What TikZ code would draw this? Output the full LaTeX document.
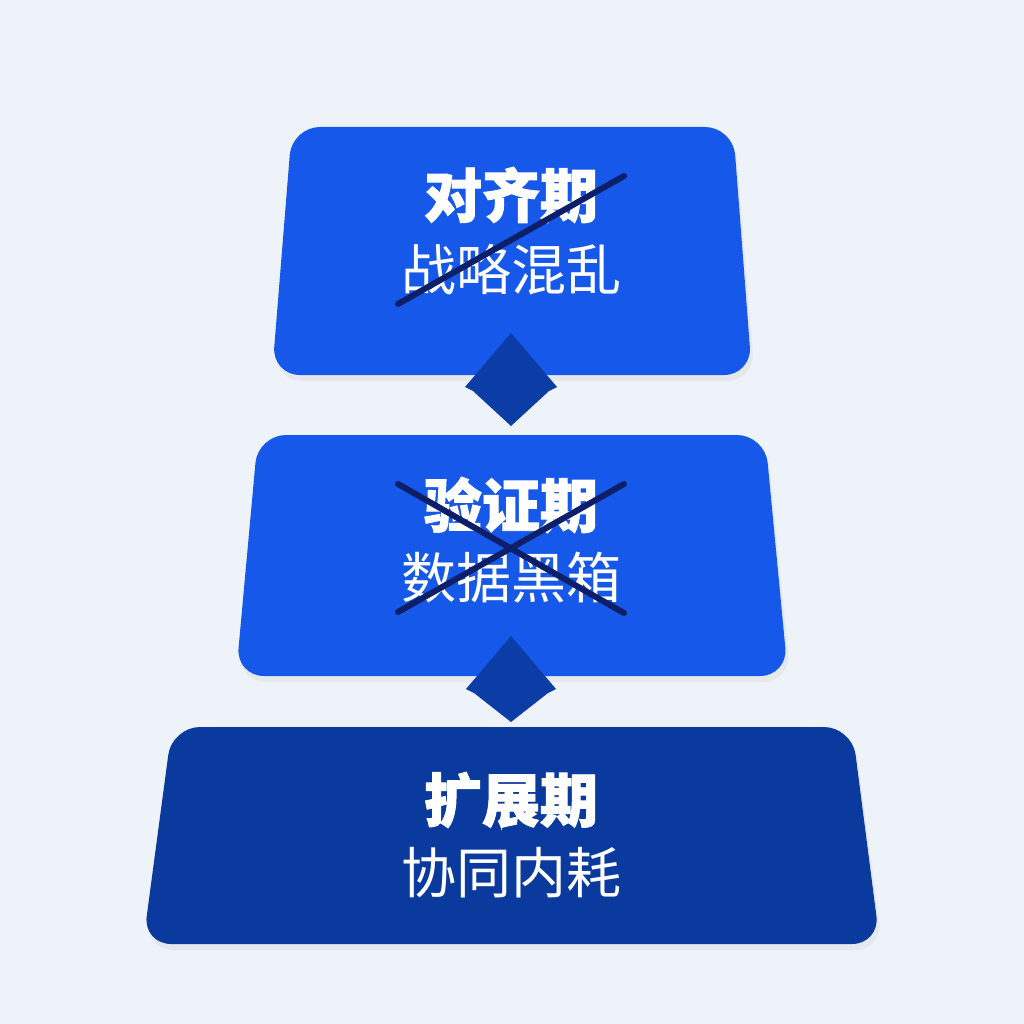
\documentclass[tikz,border=0pt]{standalone}
\usepackage{fontspec}
\newfontfamily\cjk{Noto Sans CJK SC}[BoldFeatures={FakeBold=1.6}]
\definecolor{bg}{HTML}{EEF3FA}
\definecolor{brightblue}{HTML}{1558EA}
\definecolor{darkblue}{HTML}{0B3A9E}
\definecolor{diamondblue}{HTML}{0C3DA6}
\definecolor{crossnavy}{HTML}{0E1F6A}
\tikzset{
  stagebox/.style={rounded corners=28pt},
  title/.style={text=white, font=\cjk\bfseries\fontsize{58}{64}\selectfont, inner sep=0pt},
  subtitle/.style={text=white, font=\cjk\fontsize{55}{62}\selectfont, inner sep=0pt},
  crossline/.style={draw=crossnavy, line width=6pt, line cap=round},
  linkdiamond/.style={fill=diamondblue},
}
\begin{document}
\begin{tikzpicture}[x=1pt,y=-1pt]
\useasboundingbox (0,0) rectangle (1024,1024);
\fill[bg] (0,0) rectangle (1024,1024);

% shadows
\fill[black!20, opacity=0.25, stagebox] (294,133) -- (735,133) -- (755,381) -- (274,381) -- cycle;
\fill[black!20, opacity=0.25, stagebox] (260,441) -- (767,441) -- (791,682) -- (238,682) -- cycle;
\fill[black!20, opacity=0.25, stagebox] (174,733) -- (854,733) -- (883,950) -- (145,950) -- cycle;

% stage boxes
\fill[brightblue, stagebox] (292,127) -- (733,127) -- (752,375) -- (272,375) -- cycle;
\fill[brightblue, stagebox] (258,435) -- (765,435) -- (788,676) -- (236,676) -- cycle;
\fill[darkblue, stagebox] (172,727) -- (852,727) -- (880,944) -- (143,944) -- cycle;

% connectors (diamonds)
\coordinate (d1top) at (511,333);
\coordinate (d1bot) at (511,426);
\coordinate (d2top) at (511,636);
\coordinate (d2bot) at (511,722);
\fill[linkdiamond] (d1top) -- (557,387) -- (549,391) -- (d1bot) -- (473,391) -- (465,387) -- cycle;
\fill[linkdiamond] (d2top) -- (556,689) -- (548,693) -- (d2bot) -- (474,693) -- (466,689) -- cycle;

% texts
\node[title] (t1) at (511,195) {对齐期};
\node[subtitle] (s1) at (511,270) {战略混乱};
\node[title] (t2) at (511,505) {验证期};
\node[subtitle] (s2) at (511,578) {数据黑箱};
\node[title] (t3) at (511,800) {扩展期};
\node[subtitle] (s3) at (511,873) {协同内耗};

% cross-outs
\draw[crossline] (398,304) -- (624,176);
\draw[crossline] (398,484) -- (624,613);
\draw[crossline] (398,612) -- (624,484);
\end{tikzpicture}
\end{document}
